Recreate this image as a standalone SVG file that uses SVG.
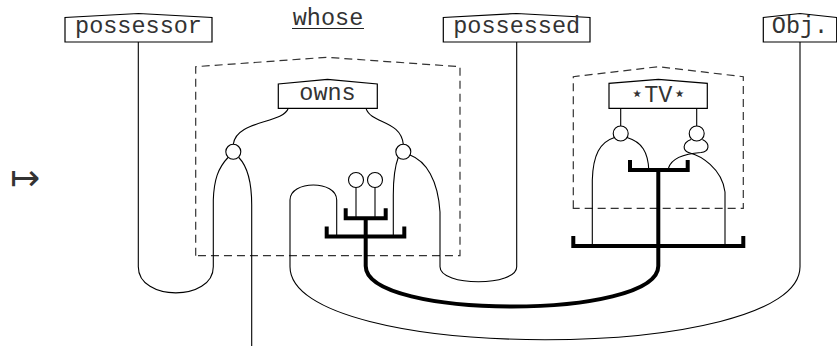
<svg xmlns="http://www.w3.org/2000/svg" width="837" height="347" viewBox="0 0 837 347">
<style>
.lbl{fill:#fff;stroke:#000;stroke-width:1.2}
.t{font-family:"Liberation Mono","DejaVu Sans Mono",monospace;font-size:23.5px;fill:#333;text-anchor:middle}
.dash{fill:none;stroke:#333;stroke-width:1.2;stroke-dasharray:8,5}
.w{fill:none;stroke:#000;stroke-width:1.1}
.thick{fill:none;stroke:#000;stroke-width:4;stroke-linejoin:miter}
.c{fill:#fff;stroke:#000;stroke-width:1.1}
</style>
<rect width="837" height="347" fill="#fff"/>
<text x="25" y="190" font-family="DejaVu Sans,sans-serif" font-size="36" text-anchor="middle" fill="#333">↦</text>
<g id="whose">
<text class="t" x="328" y="25">whose</text>
<line x1="292" y1="28.5" x2="364" y2="28.5" stroke="#222" stroke-width="1.2"/>
</g>
<g id="box-owns-group"><path class="dash" d="M195.7,255.7 L195.7,66.7 L326.7,57.3 L460,66.7 L460,255.7 Z"/></g>
<g id="box-tv-group"><path class="dash" d="M573.3,208.3 L573.3,76.7 L658.3,66.7 L743.3,76.7 L743.3,208.3 Z"/></g>
<g id="connectors">
<path class="w" d="M138.3,42 L138.3,266.7 C138.3,301.6 213.3,301.6 213.3,266.7 L213.3,200 C214,180 218,168 228,157.5"/>
<path class="w" d="M238.8,157.5 C247,166 251.7,182 251.7,205 L251.7,346"/>
<path class="w" d="M288.3,108.3 C283,124 236,120 233.3,144.3"/>
<path class="w" d="M366,108.3 C371,124 401,120 403.3,144.3"/>
<path class="w" d="M398.3,157.3 C395,166 393.3,176 393.3,195 L393.3,235"/>
<path class="w" d="M410,155 C426,161 438,180 440,212 L440,266.7 C440,286.7 516.7,286.7 516.7,266.7 L516.7,42"/>
<path class="w" d="M336.7,235 L336.7,200 C336.7,180 290,180 290,200 L290,266.7 C290,364 800,364 800,266.7 L800,42"/>
<line class="w" x1="356" y1="187.5" x2="356" y2="218"/>
<line class="w" x1="375" y1="187.5" x2="375" y2="218"/>
<line class="w" x1="620.7" y1="108.3" x2="620.7" y2="126"/>
<line class="w" x1="696.7" y1="108.3" x2="696.7" y2="126"/>
<path class="w" d="M614.5,137.5 C600,142 593,155 592.3,180 L592.3,246"/>
<path class="w" d="M627,137.5 C642,142 648,152 648.8,170"/>
<path class="w" d="M691,139.5 C682,143 682,151 690,153 C700,155.5 722,168 725,192 L725,246"/>
<path class="w" d="M702.4,139.5 C711,144 709,151.5 701,152.5 C688,153.5 672,157 668.5,168"/>
<path class="thick" d="M326.7,226.5 L326.7,236.5 L404.3,236.5 L404.3,226.5"/>
<path class="thick" d="M345.7,208.3 L345.7,218.3 L385.7,218.3 L385.7,208.3"/>
<path class="thick" d="M365.7,218 L365.7,266 C365.7,320 658.3,320 658.3,266 L658.3,170"/>
<path class="thick" d="M630,160 L630,170 L687.7,170 L687.7,160"/>
<path class="thick" d="M573.3,236 L573.3,246 L743.3,246 L743.3,236"/>
</g>
<g id="possessor"><polygon class="lbl" points="65,42 65,17.5 138.5,13.5 212,17.5 212,42"/><text class="t" x="138.5" y="33">possessor</text></g>
<g id="possessed"><polygon class="lbl" points="443.3,42 443.3,17.5 516.7,13.5 590,17.5 590,42"/><text class="t" x="516.7" y="33">possessed</text></g>
<g id="obj"><polygon class="lbl" points="763.3,42 763.3,17.5 800,13.5 836.7,17.5 836.7,42"/><text class="t" x="800" y="33">Obj.</text></g>
<g id="owns"><polygon class="lbl" points="278.3,108.3 278.3,84 327.5,79.3 377.3,84 377.3,108.3"/><text class="t" x="327.5" y="99.5">owns</text></g>
<g id="tv"><polygon class="lbl" points="609,108.3 609,83.3 658.3,79.3 707.3,83.3 707.3,108.3"/><text class="t" x="658.3" y="101.5">⋆TV⋆</text></g>
<g id="circles">
<circle class="c" cx="233.3" cy="151.8" r="7.5"/>
<circle class="c" cx="403.3" cy="151.8" r="7.5"/>
<circle class="c" cx="356" cy="180" r="7.5"/>
<circle class="c" cx="375" cy="180" r="7.5"/>
<circle class="c" cx="620.7" cy="133.5" r="7.5"/>
<circle class="c" cx="696.7" cy="133.5" r="7.5"/>
</g>
</svg>
